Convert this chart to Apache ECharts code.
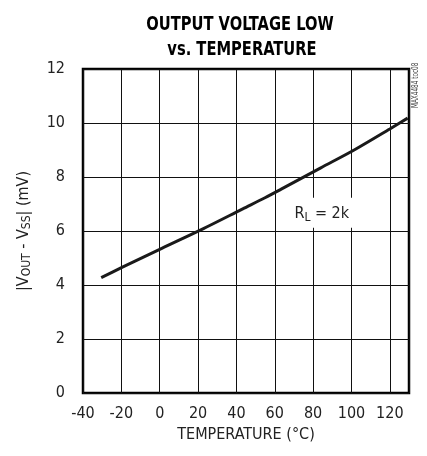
<!DOCTYPE html>
<html>
<head>
<meta charset="utf-8">
<script src="https://cdn.jsdelivr.net/npm/echarts@6/dist/echarts.min.js"></script>
<style>
html,body{margin:0;padding:0;background:#fff;}
#c{width:427px;height:456px;}
</style>
</head>
<body>
<div id="c"></div>
<script>
// Data
const temperature = [-30.5, -19.7, 1.1, 22.8, 43.3, 54.9, 63.6, 84.0, 101.4, 120.0, 129.3];
const voutLow     = [4.27, 4.65, 5.36, 6.09, 6.82, 7.23, 7.56, 8.34, 9.00, 9.78, 10.18];
const xTicks = [-40, -20, 0, 20, 40, 60, 80, 100, 120];
const yTicks = [0, 2, 4, 6, 8, 10, 12];
const titleLines = ['OUTPUT VOLTAGE LOW', 'vs. TEMPERATURE'];

const FONT = "'DejaVu Sans Condensed','Liberation Sans Narrow','Arial Narrow',sans-serif";

const chart = echarts.init(document.getElementById('c'), null, {renderer: 'canvas'});
chart.setOption({
  animation: false,
  backgroundColor: '#fff',
  grid: {left: 83, right: 18, top: 69, bottom: 63, show: true, borderColor: '#000', borderWidth: 2.5, backgroundColor: 'transparent'},
  xAxis: {
    type: 'value', min: -40, max: 130, interval: 20,
    name: 'TEMPERATURE (°C)', nameLocation: 'middle', nameGap: 31,
    nameTextStyle: {fontFamily: FONT, fontSize: 16, color: '#222'},
    axisLine: {show: false}, axisTick: {show: false},
    axisLabel: {margin: 13, fontFamily: FONT, fontSize: 16, color: '#222',
      formatter: v => xTicks.indexOf(v) >= 0 ? String(v) : ''},
    splitLine: {show: true, lineStyle: {color: '#111', width: 1}}
  },
  yAxis: {
    type: 'value', min: 0, max: 12, interval: 2,
    name: '{n||V}{s|OUT}{n| - V}{s|SS}{n|| (mV)}', nameLocation: 'middle', nameGap: 50,
    nameTextStyle: {fontFamily: FONT, fontSize: 16, color: '#222',
      rich: {n: {fontFamily: FONT, fontSize: 16, color: '#222'},
             s: {fontFamily: FONT, fontSize: 12, color: '#222', verticalAlign: 'bottom', padding: [6, 0, 0, 0]}}},
    axisLine: {show: false}, axisTick: {show: false},
    axisLabel: {margin: 18, fontFamily: FONT, fontSize: 16, color: '#222',
      formatter: v => yTicks.indexOf(v) >= 0 ? String(v) : ''},
    splitLine: {show: true, lineStyle: {color: '#111', width: 1}}
  },
  series: [{
    type: 'line',
    data: temperature.map((t, i) => [t, voutLow[i]]),
    smooth: 0.3, showSymbol: false, symbol: 'none',
    lineStyle: {color: '#1a1a1a', width: 3},
    markPoint: {
      symbol: 'rect', symbolSize: 1, itemStyle: {color: 'transparent'},
      data: [{coord: [84.5, 6.68]}],
      label: {
        show: true, position: 'inside',
        formatter: '{n|R}{s|L}{n| = 2k}',
        backgroundColor: '#fff', padding: [6, 3, 4, 3],
        rich: {n: {fontFamily: FONT, fontSize: 16, color: '#222'},
               s: {fontFamily: FONT, fontSize: 12, color: '#222', padding: [8, 0, 0, 0]}}
      }
    }
  }],
  graphic: [
    {type: 'text', x: 240, y: 25, scaleX: 0.86,
     style: {text: titleLines[0], fontFamily: FONT, fontWeight: 'bold', fontSize: 19, fill: '#000', textAlign: 'center', textVerticalAlign: 'middle'}},
    {type: 'text', x: 242, y: 50, scaleX: 0.86,
     style: {text: titleLines[1], fontFamily: FONT, fontWeight: 'bold', fontSize: 19, fill: '#000', textAlign: 'center', textVerticalAlign: 'middle'}},
    {type: 'text', x: 416, y: 108, rotation: Math.PI / 2, scaleX: 0.75,
     style: {text: 'MAX4484 toc08', fontFamily: FONT, fontSize: 8.5, fill: '#444', textAlign: 'left', textVerticalAlign: 'middle'}}
  ]
});
</script>
</body>
</html>
